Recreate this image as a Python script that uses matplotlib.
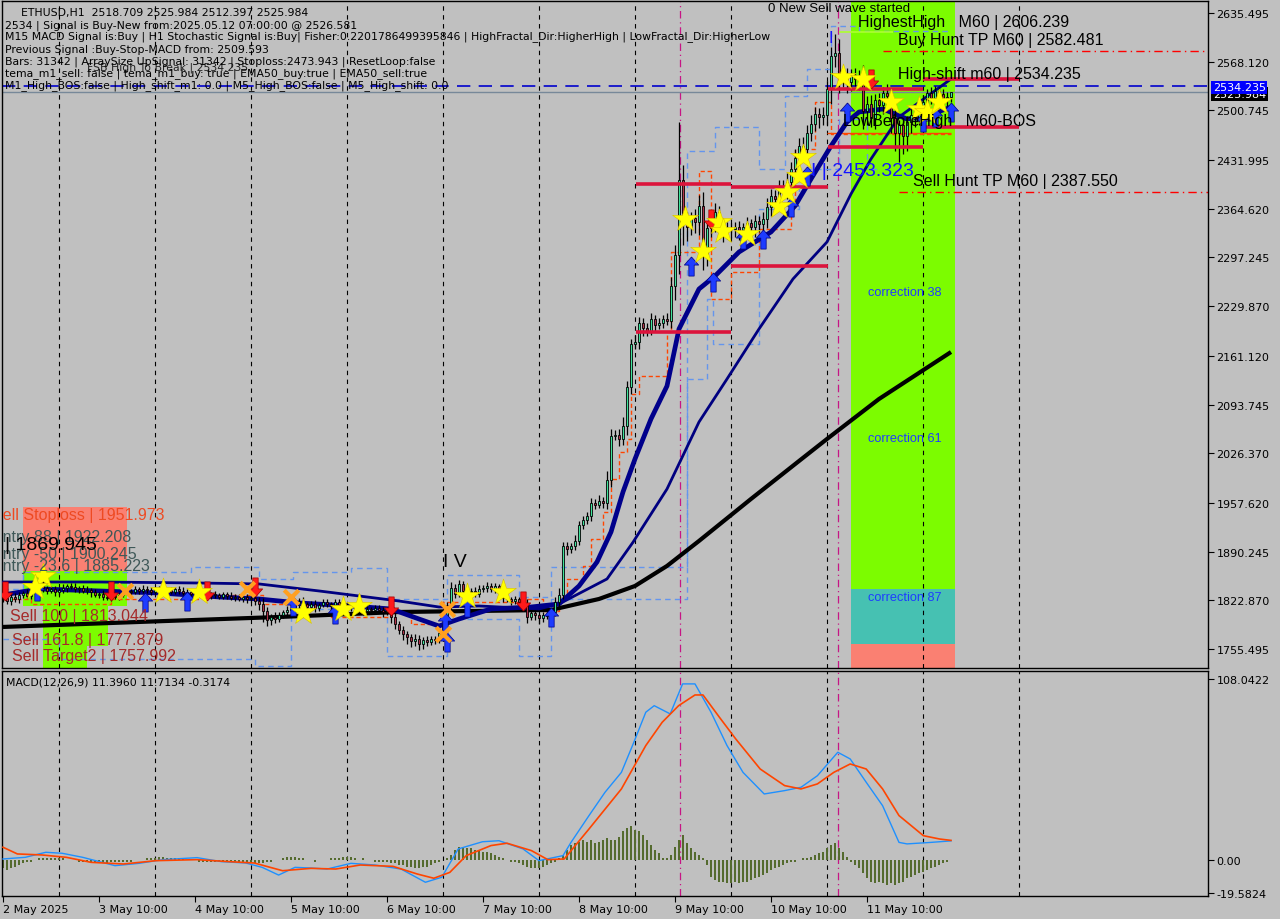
import numpy as np
import matplotlib
matplotlib.use("Agg")
import matplotlib.pyplot as plt
from matplotlib.patches import Rectangle
from matplotlib.transforms import blended_transform_factory

# ---------------- data ----------------
# H1 bars, bar 0 = 2 May 2025 10:00, last bar = 12 May 07:00
first_open = 1830.0
closes = [
    1826, 1822, 1828, 1824, 1830, 1833, 1829, 1835, 1838, 1845, 1840, 1836, 1838, 1834, 1837,
    1840, 1843, 1841, 1838, 1840, 1836, 1837, 1834, 1830, 1832, 1828, 1826, 1829, 1827,
    1830, 1834, 1836, 1835, 1838, 1836, 1839, 1837, 1835, 1838, 1836, 1834, 1837, 1835, 1838, 1836, 1833, 1835, 1832, 1834,
    1831, 1833, 1829, 1832, 1830, 1828, 1831, 1829, 1826, 1828, 1825, 1827, 1824, 1826, 1822, 1818,
    1808, 1795, 1800, 1797, 1803, 1806, 1810, 1812,
    1816, 1822, 1818, 1814, 1818, 1812, 1816, 1820,
    1818, 1815, 1820, 1817, 1812, 1815, 1813, 1810, 1812, 1808, 1811, 1809, 1812, 1810, 1806, 1809,
    1800, 1790, 1782, 1776, 1772, 1766, 1770, 1762,
    1768, 1765, 1770, 1768, 1778,
    1790, 1815, 1840, 1832, 1845, 1836, 1834, 1836, 1832, 1838, 1840, 1843, 1838, 1842, 1836,
    1826, 1824, 1822, 1825, 1821, 1819, 1800, 1805, 1802, 1798, 1803, 1801, 1806, 1820, 1830,
    1898, 1894, 1898, 1905, 1927, 1934, 1940, 1958, 1955, 1960, 1957, 1990, 2050, 2052, 2046, 2064,
    2118, 2178, 2180, 2206, 2200, 2196, 2212, 2204, 2207, 2212, 2210, 2258,
    2300, 2405, 2350, 2340, 2352, 2346, 2368, 2300, 2338, 2342, 2360, 2335, 2333, 2338, 2336, 2340,
    2334, 2339, 2345, 2340, 2348, 2344, 2350, 2367, 2382, 2378, 2395, 2390, 2402, 2420, 2435, 2452,
    2448, 2470, 2482, 2496, 2492, 2495, 2530, 2576, 2580, 2545,
    2548, 2540, 2550, 2544, 2548, 2500, 2510, 2490, 2515, 2508, 2525, 2520, 2490, 2470, 2480, 2465,
    2485, 2495, 2490, 2505, 2512, 2525, 2518, 2528, 2524, 2515, 2518.709, 2525.984,
]
wick_up = [
    4, 6, 3, 5, 4, 3, 6, 4, 5, 10, 4, 3, 5, 4, 3,
    5, 3, 4, 6, 3, 4, 5, 3, 4, 3, 5, 4, 3, 4,
    3, 4, 5, 3, 4, 3, 5, 3, 4, 3, 4, 5, 3, 4, 3, 4, 5, 3, 4, 3,
    4, 3, 5, 3, 4, 3, 4, 3, 5, 3, 4, 3, 4, 3, 4, 5,
    8, 5, 4, 6, 3, 4, 5, 4,
    6, 4, 5, 3, 4, 5, 3, 4,
    4, 3, 5, 4, 3, 4, 3, 5, 4, 3, 4, 3, 4, 5, 3, 4,
    6, 5, 4, 6, 5, 4, 6, 5,
    4, 5, 3, 4, 6,
    5, 6, 8, 5, 6, 4, 5, 4, 5, 6, 4, 5, 4, 5, 4,
    4, 5, 3, 4, 3, 5, 6, 4, 5, 3, 4, 5, 6, 8, 10,
    5, 6, 4, 8, 5, 6, 5, 6, 5, 8, 6, 12, 10, 6, 8, 12, 8, 6, 10, 9, 8, 6, 8, 6, 7, 6, 8, 12,
    15, 79, 20, 10, 8, 12, 15, 20, 8, 10, 12, 8, 6, 8, 7, 6, 8, 6, 8, 6, 8, 7, 10, 12, 10, 8,
    10, 9, 12, 10, 12, 10, 12, 10, 12, 10, 8, 10, 12, 12, 26, 20,
    10, 12, 8, 10, 8, 15, 10, 12, 8, 10, 8, 12, 10, 12, 8, 10, 8, 10, 12, 8, 10, 6, 8, 6, 5, 6, 7, 0,
]
wick_dn = [
    5, 4, 6, 3, 5, 4, 3, 5, 4, 6, 5, 4, 3, 5, 4,
    4, 5, 3, 4, 5, 3, 4, 6, 3, 4, 5, 3, 4, 3,
    4, 3, 4, 5, 3, 4, 3, 4, 5, 3, 4, 3, 5, 4, 3, 4, 3, 5, 4, 3,
    3, 4, 3, 5, 4, 3, 4, 5, 3, 4, 3, 4, 5, 3, 6, 8,
    15, 8, 6, 5, 4, 5, 3, 4,
    4, 5, 3, 6, 4, 5, 4, 3,
    5, 4, 3, 5, 4, 3, 5, 4, 3, 5, 4, 3, 4, 5, 6, 4,
    8, 7, 6, 8, 10, 8, 6, 8,
    6, 5, 4, 6, 4,
    6, 5, 5, 6, 4, 5, 4, 5, 4, 5, 4, 5, 4, 5, 4,
    5, 4, 6, 4, 5, 6, 8, 5, 6, 8, 5, 4, 6, 5, 6,
    6, 8, 5, 6, 5, 6, 5, 8, 6, 5, 6, 8, 10, 6, 10, 8, 12, 10, 8, 10, 12, 8, 6, 8, 6, 8, 6, 10,
    20, 25, 35, 20, 12, 15, 18, 20, 15, 12, 10, 12, 15, 10, 12, 10, 12, 10, 12, 10, 15, 12, 10, 12, 12, 15,
    12, 10, 12, 15, 12, 15, 12, 15, 12, 10, 15, 12, 15, 20, 15, 20,
    12, 15, 12, 10, 15, 25, 20, 12, 15, 10, 12, 15, 20, 25, 40, 25, 20, 15, 12, 10, 12, 10, 8, 10, 8, 6, 8, 6.312,
]

# moving averages, sampled (bar index, price)
ema_fast_i = [0, 9, 24, 39, 54, 64, 74, 87, 97, 104, 109, 114, 122, 132, 139, 144, 148.5, 152, 155, 158,
              162, 166, 169, 174, 178, 184, 192, 198, 202, 207, 211, 214, 220, 226, 231, 237]
ema_fast_p = [1830.2, 1838.6, 1835.8, 1833.0, 1827.5, 1824.7, 1819.2, 1815.0, 1810.9, 1797.0, 1787.3, 1797.0,
              1810.9, 1813.6, 1817.8, 1842.7, 1875.9, 1917.4, 1972.8, 2018.4, 2073.8, 2119.4, 2198.3, 2253.6,
              2271.6, 2304.8, 2332.5, 2368.5, 2405.8, 2451.5, 2484.7, 2498.5, 2502.7, 2488.8, 2493.0, 2505.4]
ema_slow_i = [0, 24, 49, 64, 79, 99, 109, 119, 134, 139, 151, 157.5, 166, 174, 181, 189, 197.5, 206, 212, 217, 224, 237]
ema_slow_p = [1848.2, 1848.2, 1846.8, 1845.5, 1835.8, 1821.9, 1813.6, 1815.0, 1810.9, 1817.8, 1852.4, 1903.2,
              1976.9, 2069.6, 2129.1, 2198.3, 2267.5, 2318.7, 2385.1, 2433.5, 2491.6, 2544.2]
ma200_i = [0, 34, 69, 99, 137, 149, 158, 166, 174, 187, 199, 206, 219, 237]
ma200_p = [1786.0, 1792.9, 1799.8, 1806.7, 1809.5, 1824.7, 1842.7, 1870.4, 1905.0, 1963.1, 2015.6, 2046.1, 2101.4, 2166.4]

# trailing stop (orange) and envelope (blue) step lines
stop_i = [0, 7, 27, 49, 65, 82, 97, 102, 110, 130, 135, 139, 141, 145, 147, 150, 152, 154, 156, 157, 159,
          166, 167, 174, 177, 182, 189, 197, 198, 203, 207, 237]
stop_p = [1824.7, 1817.8, 1824.7, 1830.2, 1817.8, 1799.8, 1808.1, 1790.1, 1820.6, 1824.7, 1808.1, 1827.5,
          1852.4, 1870.4, 1907.7, 1945.1, 1990.8, 2028.1, 2046.1, 2108.3, 2133.3, 2194.1, 2304.8, 2416.9,
          2239.8, 2277.2, 2336.6, 2368.5, 2447.3, 2512.4, 2468.1, 2468.1]
env_up_i = [0, 5, 47, 64, 72.5, 87, 96, 111, 129, 137, 171, 178, 189, 195.5, 201, 207, 214, 237]
env_up_p = [1838.6, 1862.1, 1869.0, 1852.4, 1862.1, 1867.6, 1824.7, 1857.9, 1827.5, 1869.0, 2444.6, 2477.8,
            2419.7, 2520.7, 2558.0, 2617.5, 2610.6, 2610.6]
env_dn_i = [0, 14, 63, 72, 96, 111, 129, 137, 171, 176, 177.5, 189, 199, 209, 216, 219]
env_dn_p = [1769.4, 1742.2, 1732.0, 1810.9, 1745.9, 1797.0, 1745.9, 1824.7, 2129.1, 2239.8, 2177.5, 2364.3,
            2419.7, 2488.8, 2419.7, 2419.7]

# level segments (start bar, end bar, price)
red_i0 = [158.25, 182, 158.25, 182, 206.25, 230, 230, 206.25]
red_i1 = [182, 206.25, 182, 206.25, 230, 254, 254, 230]
red_p = [2398.9, 2394.8, 2194.1, 2285.5, 2530.3, 2544.2, 2477.8, 2450.1]
buy_hunt_tp = 2582.481
sell_hunt_tp = 2387.550
fsb_high = 2534.235
last_close = 2525.984

# signal markers (bar index, price)
star_i = [10, 8, 40, 49, 75, 85, 89, 116, 125, 170.5, 175, 179, 180, 186, 194, 196, 199, 200, 210, 215, 222, 229, 231, 234]
star_p = [1856.5, 1841.3, 1835.8, 1834.4, 1806.7, 1810.9, 1815.0, 1828.9, 1834.4, 2350.5, 2306.2, 2346.3, 2333.9,
          2329.7, 2368.5, 2387.8, 2410.0, 2436.3, 2546.9, 2544.2, 2512.4, 2502.7, 2498.5, 2512.4]
buy_i = [8.5, 35.5, 46, 72.5, 83, 110.5, 111, 116, 137, 172, 177.5, 185, 190, 197, 201, 211, 230, 233, 237]
buy_p = [1835.8, 1820.6, 1822.0, 1815.0, 1803.9, 1792.9, 1765.2, 1813.6, 1799.8, 2285.5, 2263.3, 2322.8, 2322.8,
         2367.1, 2410.0, 2498.5, 2484.7, 2491.6, 2498.5]
sell_i = [0.5, 27, 51, 63, 97, 130, 177, 217]
sell_p = [1835.8, 1835.8, 1835.8, 1841.3, 1815.0, 1821.9, 2350.5, 2544.2]
exit_i = [30.5, 61, 72, 111, 110]
exit_p = [1835.8, 1838.6, 1827.5, 1810.9, 1775.7]

# zones
right_zone_i = [212, 238]
right_zone_levels = [2660, 1838.6, 1762.5, 1720]
left_stop_band = [5, 31, 1951.973, 1863.4]
left_green_bands = [(5, 31, 1863.4, 1815.0), (10, 26.25, 1815.0, 1759.6), (10, 21, 1759.6, 1720)]

# MACD(12,26,9)
macd_i = [0, 5.6, 10.7, 14.8, 19.9, 28, 34, 40, 48.5, 54.6, 60.7, 64.8, 68.9, 73, 77, 81, 87, 93, 99.5, 105.6,
          109.7, 113.8, 119.9, 124, 130, 134, 140, 142, 146.5, 150.5, 154.6, 157.7, 160.7, 162.8, 166.8, 169.9,
          173, 177, 181, 185, 190.3, 195.4, 199.5, 203.6, 208.7, 211.8, 215.8, 219.9, 224, 226, 232, 237]
macd_v = [0.6, 1.6, 4.6, 4.0, 1.6, -3.4, -2.0, 0.2, 1.4, -1.0, -1.8, -4.4, -9.0, -4.4, -4.8, -5.4, -2.0, -3.0,
          -5.4, -13.3, -10.3, 6.6, 10.9, 11.5, 6.6, -0.4, 2.6, 10.5, 26.5, 40.4, 52.3, 70.2, 88.2, 92.1, 87.2,
          105.1, 105.1, 88.2, 68.3, 52.3, 39.4, 41.4, 43.4, 50.3, 64.3, 60.3, 46.4, 32.4, 10.5, 9.6, 10.5, 11.4]
sig_i = [0, 3.6, 9.7, 15.8, 22, 30.1, 38.3, 48.5, 56.6, 62.8, 69.9, 77, 83.2, 89.3, 97.5, 103.6, 107.7, 111.7,
         115.8, 122, 126, 132.1, 136.2, 140.3, 146.5, 154.6, 160.7, 164.8, 168.9, 173, 175, 179.1, 183.2, 189.3,
         195.4, 199.5, 203.6, 207.7, 211.8, 215.8, 219.9, 224, 230.1, 234.2, 237]
sig_v = [7.6, 3.6, 3.0, 1.6, -1.4, -2.4, -0.4, 0.2, -1.0, -1.8, -6.4, -5.0, -5.4, -3.0, -3.8, -8.4, -10.9, -7.4,
         2.6, 8.6, 10.0, 5.6, 0.2, 0.6, 18.5, 42.4, 68.3, 82.2, 92.1, 98.5, 98.5, 85.2, 72.2, 54.3, 44.4, 42.4,
         45.4, 52.3, 57.3, 54.3, 42.4, 26.5, 14.5, 12.5, 11.7]
hist = [
    -5, -6, -5, -4, -3, -2, -1, -1, 0, 1, 1, 1,
    1, 1, 1, 1, 0, 0, 0, -1, -1, -1,
    -1, -1, -2, -2, -2, -1, -1, -1, -1, -1, -1, 0, 0, 0,
    1, 1, 1, 2, 2, 1, 1, 1, 1, 1, 0, 0,
    0, -1, -1, -1, -1, -1, -1, -1, -1, -1, -1, -1, -1, -1, -2, -2, -2, -2, -1,
    -1, 0, 0, 1, 2, 2, 2, 1, 1,
    0, 0, -1, 0, 0, 0, 1, 1, 1, 2, 2, 2, 1,
    0, 1, 0, 0, -1, -1,
    -1, -1, -2, -2, -3, -3, -4, -4, -5, -5, -4, -4, -3,
    -2, -1, 0, 1,
    3, 6, 8, 8, 7, 7, 6, 6, 5, 5, 4, 3, 2, 1, 0, -1, -1, -2, -3, -4, -5, -5, -5, -4, -3, -2, -1, 1,
    3, 6, 9, 10, 11, 12, 11, 12, 10, 11, 12, 13, 12, 12, 14, 17, 19, 20, 18, 17, 15, 12, 9, 6, 4, 1, 1, 3,
    8, 12, 15, 10, 7, 5, 3, 1,
    -3, -10, -12, -13, -13, -14, -14, -13, -14, -13, -13, -12, -11, -10, -9, -8, -6, -5, -4, -3, -2, -1, -1, 0,
    1, 1, 2, 3, 4, 5, 7, 9, 10, 7, 5, 2,
    -1, -3, -5, -8, -11, -13, -14, -13, -14, -15, -14, -15, -14, -13, -11, -10, -9, -8, -7, -6, -5, -4, -3, -2, -1, -0.3,
]

price_ticks = [2635.495, 2568.120, 2500.745, 2431.995, 2364.620, 2297.245, 2229.870, 2161.120,
               2093.745, 2026.370, 1957.620, 1890.245, 1822.870, 1755.495]
macd_ticks = [108.0422, 0.0, -19.5824]
macd_tick_labels = ["108.0422", "0.00", "-19.5824"]
date_ticks = [0, 24, 48, 72, 96, 120, 144, 168, 192, 216]
date_labels = ["2 May 2025", "3 May 10:00", "4 May 10:00", "5 May 10:00", "6 May 10:00",
               "7 May 10:00", "8 May 10:00", "9 May 10:00", "10 May 10:00", "11 May 10:00"]
day_lines = [14, 38, 62, 86, 110, 134, 158, 182, 206, 230, 254]
signal_lines = [169.25, 208.75]

header = [
    "ETHUSD,H1  2518.709 2525.984 2512.397 2525.984",
    "2534 | Signal is Buy-New from:2025.05.12 07:00:00 @ 2526.581",
    "M15 MACD Signal is:Buy | H1 Stochastic Signal is:Buy| Fisher:0.2201786499395846 | HighFractal_Dir:HigherHigh | LowFractal_Dir:HigherLow",
    "Previous Signal :Buy-Stop-MACD from: 2509.593",
    "Bars: 31342 | ArraySize UpSignal: 31342 | Stoploss:2473.943 | ResetLoop:false",
    "tema_m1_sell: false | tema_m1_buy: true | EMA50_buy:true | EMA50_sell:true",
    "M1_High_BOS:false | High_shift_m1: 0.0 | M5_High_BOS:false | M5_High_shift: 0.0",
]

# ---------------- figure ----------------
BG = "#c0c0c0"
fig = plt.figure(figsize=(12.8, 9.2), dpi=100, facecolor=BG)
ax = fig.add_axes([2 / 1280, 1 - 669 / 920, 1206 / 1280, 667 / 920], facecolor=BG)
axm = fig.add_axes([2 / 1280, 1 - 897 / 920, 1206 / 1280, 225 / 920], facecolor=BG)

closes_a = np.array(closes, dtype=float)
opens_a = np.concatenate([[first_open], closes_a[:-1]])
highs = np.maximum(opens_a, closes_a) + np.array(wick_up)
lows = np.minimum(opens_a, closes_a) - np.array(wick_dn)
idx = np.arange(len(closes_a))

# zones
ax.add_patch(Rectangle((right_zone_i[0], right_zone_levels[1]), right_zone_i[1] - right_zone_i[0],
                       right_zone_levels[0] - right_zone_levels[1], color="#7cfc00", lw=0, zorder=0.5))
ax.add_patch(Rectangle((right_zone_i[0], right_zone_levels[2]), right_zone_i[1] - right_zone_i[0],
                       right_zone_levels[1] - right_zone_levels[2], color="#46c1b2", lw=0, zorder=0.5))
ax.add_patch(Rectangle((right_zone_i[0], right_zone_levels[3]), right_zone_i[1] - right_zone_i[0],
                       right_zone_levels[2] - right_zone_levels[3], color="#fa8072", lw=0, zorder=0.5))
s0, s1, sp0, sp1 = left_stop_band
ax.add_patch(Rectangle((s0, sp1), s1 - s0, sp0 - sp1, color="#fa8072", lw=0, zorder=0.5))
for g0, g1, gp0, gp1 in left_green_bands:
    ax.add_patch(Rectangle((g0, gp1), g1 - g0, gp0 - gp1, color="#7cfc00", lw=0, zorder=0.5))

# day separators + signal lines
for a in (ax, axm):
    for d in day_lines:
        a.axvline(d, color="black", lw=0.8, ls=(0, (4, 4)), zorder=1)
    for d in signal_lines:
        a.axvline(d, color="#c71585", lw=0.9, ls=(0, (6, 3, 1, 3)), zorder=1)

# envelope / stop lines
ax.step(env_up_i, env_up_p, where="post", color="#6495ed", lw=1, ls=(0, (4, 3)), zorder=2)
ax.step(env_dn_i, env_dn_p, where="post", color="#6495ed", lw=1, ls=(0, (4, 3)), zorder=2)
ax.step(stop_i, stop_p, where="post", color="#ff4500", lw=1, ls=(0, (3, 2)), zorder=2)

# horizontal levels
ax.axhline(fsb_high, color="#0000cd", lw=1.2, ls=(0, (8, 5)), zorder=2)
ax.axhline(last_close, color="#778899", lw=1, zorder=2)
ax.hlines(red_p, red_i0, red_i1, color="#dc143c", lw=2.6, zorder=5)
ax.hlines([buy_hunt_tp], 220, 302, color="#ff0000", lw=1, ls=(0, (6, 3, 1, 3)), zorder=2)
ax.hlines([sell_hunt_tp], 224, 302, color="#ff0000", lw=1, ls=(0, (6, 3, 1, 3)), zorder=2)
ax.hlines([2469.5], 206, 237, color="#ff4500", lw=1, zorder=2)
ax.hlines([2609.0], 209, 222.5, color="#adff2f", lw=1.2, zorder=2)

# moving averages
ax.plot(ma200_i, ma200_p, color="black", lw=3, zorder=3, solid_capstyle="butt")
ax.plot(ema_slow_i, ema_slow_p, color="#000080", lw=2, zorder=3)
ax.plot(ema_fast_i, ema_fast_p, color="#00008b", lw=3.4, zorder=3)

# candles
ax.vlines(idx, lows, highs, color="black", lw=0.9, zorder=4)
bull = closes_a >= opens_a
ax.bar(idx[bull], (closes_a - opens_a)[bull], bottom=opens_a[bull], width=0.72,
       color="#3fe39b", edgecolor="black", lw=0.6, zorder=4)
ax.bar(idx[~bull], (closes_a - opens_a)[~bull], bottom=opens_a[~bull], width=0.72,
       color="#b1324a", edgecolor="black", lw=0.6, zorder=4)

# markers
up_arrow = [(0, 1), (-0.75, 0.15), (-0.28, 0.15), (-0.28, -1), (0.28, -1), (0.28, 0.15), (0.75, 0.15), (0, 1)]
dn_arrow = [(x, -y) for x, y in up_arrow]
ax.scatter(buy_i, buy_p, marker=up_arrow, s=190, color="#1e3cff", edgecolor="#000080", lw=0.5, zorder=6)
ax.scatter(sell_i, sell_p, marker=dn_arrow, s=190, color="#ff1a1a", edgecolor="#a00000", lw=0.5, zorder=6)
ax.scatter(exit_i, exit_p, marker="x", s=110, color="#ffa020", lw=3, zorder=6)
ax.scatter(star_i, star_p, marker="*", s=380, color="#ffff00", edgecolor="#d8c000", lw=0.4, zorder=7)

# chart labels
lab = dict(family="Liberation Sans", va="center", ha="left", zorder=8)
ax.text(-2.75, 1940.9, "Sell Stoploss | 1951.973", color="#ee4a22", fontsize=11.5, clip_on=True, **lab)
ax.text(-2.75, 1911.8, "Entry 88 | 1922.208", color="#3f5858", fontsize=11.5, clip_on=True, **lab)
ax.text(-2.75, 1888.3, "Entry -50 | 1900.245", color="#3f5858", fontsize=11.5, clip_on=True, **lab)
ax.text(-2.75, 1871.7, "Entry -23.6 | 1885.223", color="#3f5858", fontsize=11.5, clip_on=True, **lab)
ax.text(0.5, 1899.4, "| 1869.945", color="black", fontsize=14, **lab)
ax.text(1.75, 1801.2, "Sell 100 | 1813.044", color="#a52a2a", fontsize=11.5, **lab)
ax.text(2.25, 1768.0, "Sell 161.8 | 1777.879", color="#a52a2a", fontsize=11.5, **lab)
ax.text(2.25, 1745.9, "Sell Target2 | 1757.992", color="#a52a2a", fontsize=11.5, **lab)
ax.text(110, 1875.9, "I V", color="black", fontsize=14, **lab)
ax.text(191.25, 2642.4, "0 New Sell wave started", color="black", fontsize=9.5, **lab)
ax.text(213.75, 2624.4, "HighestHigh   M60 | 2606.239", color="black", fontsize=11.5, **lab)
ax.text(223.75, 2599.5, "Buy Hunt TP M60 | 2582.481", color="black", fontsize=11.5, **lab)
ax.text(223.75, 2551.1, "High-shift m60 | 2534.235", color="black", fontsize=11.5, **lab)
ax.text(210, 2486.1, "LowBeforeHigh   M60-BOS", color="black", fontsize=11.5, **lab)
ax.text(202, 2416.9, "I | 2453.323", color="#1414ff", fontsize=14, **lab)
ax.text(227.5, 2404.4, "Sell Hunt TP M60 | 2387.550", color="black", fontsize=11.5, **lab)
ax.text(206.5, 2602, "I", color="#1414ff", fontsize=12, **lab)
for yy, t in [(2249.5, "correction 38"), (2047.5, "correction 61"), (1827.5, "correction 87")]:
    ax.text(216.25, yy, t, color="#1e3cff", fontsize=9.2, **lab)
ax.text(21, 2560.8, "FSB High To Break | 2534.235", color="#202020", fontsize=7.8,
        family="DejaVu Sans", va="center", zorder=8)

# header info lines
head_y = [12.7, 25.3, 37, 50, 62, 73.5, 86]
head_x = [21, 5, 5, 5, 5, 5, 5]
for hx, hy, t in zip(head_x, head_y, header):
    fig.text(hx / 1280, 1 - hy / 920, t, fontsize=7.8, family="DejaVu Sans", va="center", color="black", zorder=9)

# price axis
ax.set_xlim(-0.25, 301.25)
ax.set_ylim(1729.2, 2652.1)
ax.yaxis.tick_right()
ax.set_yticks(price_ticks)
ax.set_yticklabels([f"{v:.3f}" for v in price_ticks])
ax.tick_params(axis="y", direction="out", length=4, width=0.8, labelsize=8, pad=2)
ax.set_xticks([])
trans = blended_transform_factory(ax.transAxes, ax.transData)
ax.text(1.004, last_close - 2.5, f"{last_close:.3f}", transform=trans, color="white", fontsize=8,
        va="center", ha="left", clip_on=False,
        bbox=dict(boxstyle="square,pad=0.15", fc="black", ec="none"))
ax.text(1.004, fsb_high - 1.5, f"{fsb_high:.3f}", transform=trans, color="white", fontsize=8,
        va="center", ha="left", clip_on=False,
        bbox=dict(boxstyle="square,pad=0.15", fc="#0000ff", ec="none"))

# MACD panel
axm.bar(np.arange(len(hist)), hist, width=0.7, color="#556b2f", zorder=2)
axm.plot(macd_i, macd_v, color="#1e90ff", lw=1, zorder=3)
axm.plot(sig_i, sig_v, color="#ff4500", lw=1.2, zorder=3)
axm.set_xlim(-0.25, 301.25)
axm.set_ylim(-21.5, 112.8)
axm.yaxis.tick_right()
axm.set_yticks(macd_ticks)
axm.set_yticklabels(macd_tick_labels)
axm.tick_params(axis="y", direction="out", length=4, width=0.8, labelsize=8, pad=2)
axm.set_xticks(date_ticks)
axm.set_xticklabels(date_labels, ha="left")
axm.tick_params(axis="x", direction="out", length=4, width=0.8, labelsize=8, pad=2)
axm.text(0.003, 0.955, "MACD(12,26,9) 11.3960 11.7134 -0.3174", transform=axm.transAxes,
         fontsize=7.8, family="DejaVu Sans", va="center", ha="left")

for a in (ax, axm):
    for s in a.spines.values():
        s.set_color("black")
        s.set_linewidth(1)

fig.savefig("out.png", dpi=100, facecolor=BG)
